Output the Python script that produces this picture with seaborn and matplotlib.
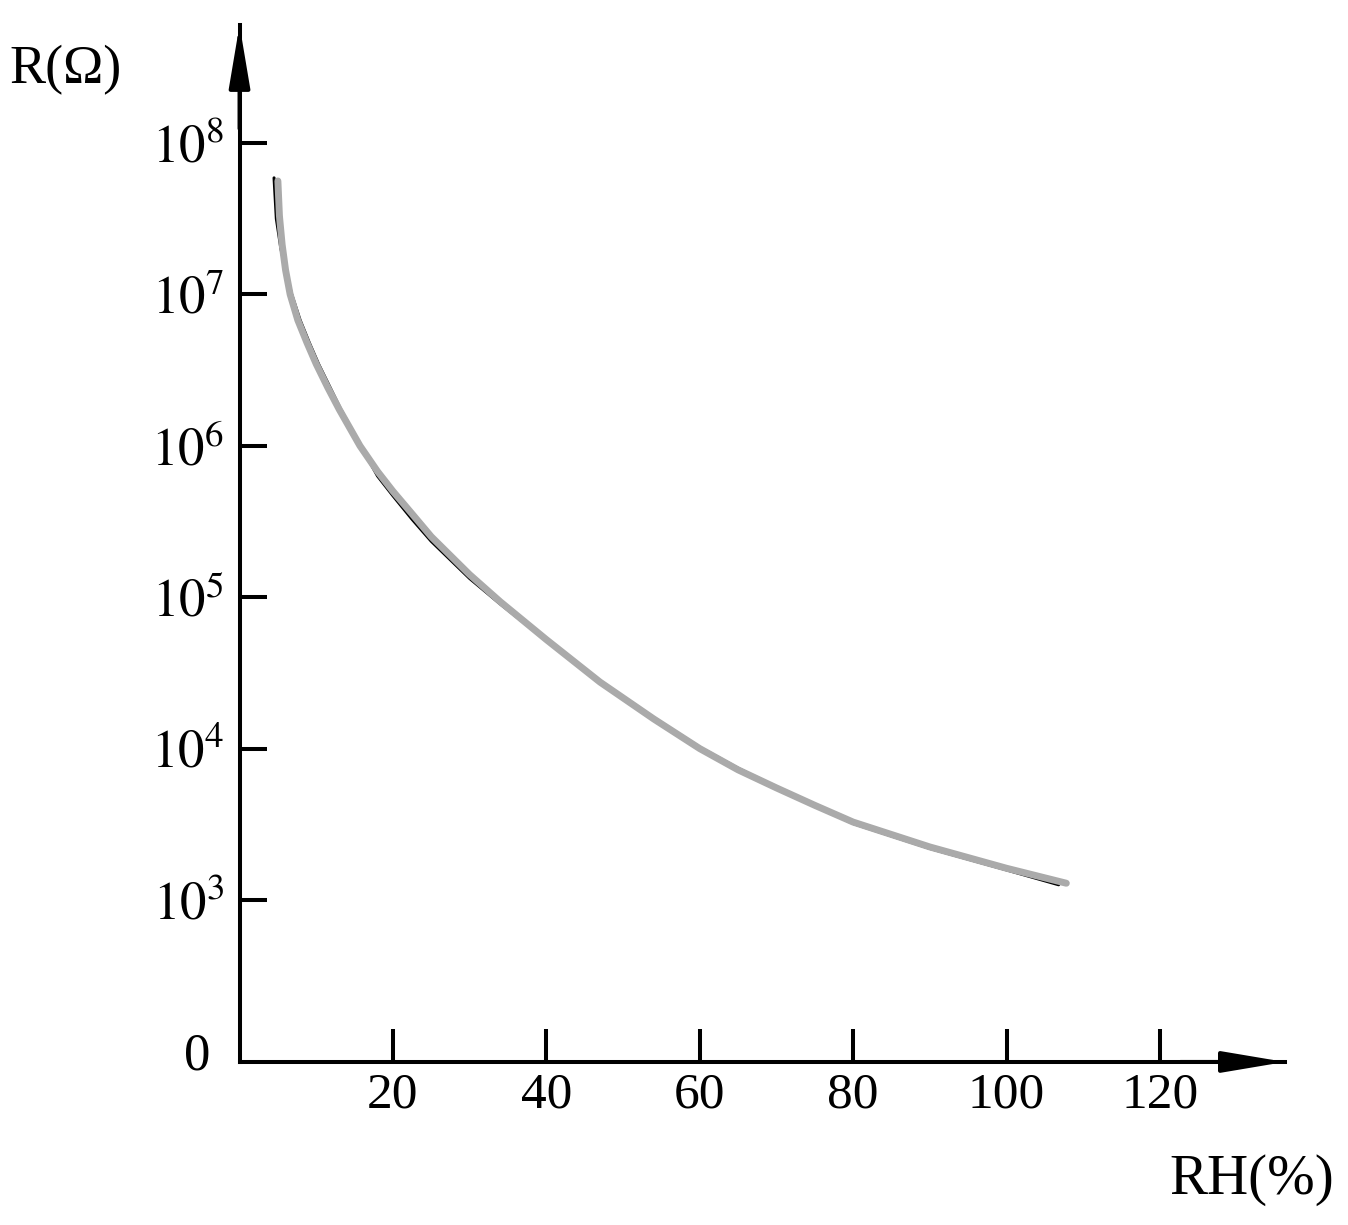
import matplotlib
matplotlib.use("Agg")
import matplotlib.pyplot as plt
import matplotlib.transforms as mtransforms
import seaborn as sns

# Data (RH in %, R in ohm)
rh_black = [4.5, 4.8, 5.4, 6.1, 6.8, 7.9, 9.1, 10.3, 11.8, 13.2, 15.8, 18, 20, 22.5, 25, 30, 34,
            40, 47, 54, 60, 65, 70, 75, 80, 90, 100, 106.8]
r_black = [5.89e7, 3.16e7, 2.0e7, 1.38e7, 1.0e7, 6.76e6, 4.79e6, 3.47e6, 2.43e6, 1.74e6, 1.0e6,
           6.31e5, 4.68e5, 3.27e5, 2.34e5, 1.33e5, 9.02e4, 5.19e4, 2.79e4, 1.60e4, 1.02e4,
           7.41e3, 5.56e3, 4.22e3, 3.20e3, 2.19e3, 1.58e3, 1.26e3]

rh_grey = [5.0, 5.2, 5.55, 6.0, 6.6, 7.6, 8.8, 10, 11.5, 13, 15.7, 18, 20, 22.5, 25, 30, 34,
           40, 47, 54, 60, 65, 70, 75, 80, 90, 100, 107.8]
r_grey = [5.62e7, 3.31e7, 2.14e7, 1.45e7, 1.0e7, 6.76e6, 4.79e6, 3.47e6, 2.43e6, 1.74e6, 1.0e6,
          6.76e5, 5.01e5, 3.55e5, 2.51e5, 1.41e5, 9.33e4, 5.25e4, 2.75e4, 1.57e4, 1.0e4,
          7.24e3, 5.50e3, 4.22e3, 3.27e3, 2.24e3, 1.62e3, 1.29e3]

x_ticks = [20, 40, 60, 80, 100, 120]
y_ticks = [1e2, 1e3, 1e4, 1e5, 1e6, 1e7, 1e8]
y_ticklabels = ['0', r'$10^{3}$', r'$10^{4}$', r'$10^{5}$', r'$10^{6}$', r'$10^{7}$', r'$10^{8}$']

sns.set_style('white')
plt.rcParams['font.family'] = ['Liberation Serif', 'DejaVu Serif']
plt.rcParams['mathtext.fontset'] = 'stix'
plt.rcParams['text.color'] = 'black'
plt.rcParams['xtick.color'] = 'black'
plt.rcParams['ytick.color'] = 'black'
plt.rcParams['axes.labelcolor'] = 'black'

fig = plt.figure(figsize=(13.48, 12.25), dpi=100)
ax = fig.add_axes([0.1777, 0.1331, 0.7755, 0.8465])

sns.lineplot(x=rh_black, y=r_black, color='black', linewidth=2.2, ax=ax)
sns.lineplot(x=rh_grey, y=r_grey, color='#aaaaaa', linewidth=5, ax=ax)

ax.set_yscale('log')
ax.set_xlim(0, 136.3)
ax.set_ylim(10**1.93, 10**8.78)
ax.set_xticks(x_ticks)
ax.set_xticklabels([str(t) for t in x_ticks])
ax.set_yticks(y_ticks)
ax.set_yticklabels(y_ticklabels)
ax.yaxis.set_minor_locator(matplotlib.ticker.NullLocator())

ax.tick_params(axis='y', direction='in', length=19.5, width=2.9, pad=11, labelsize=38,
               left=True, colors='black')
ax.tick_params(axis='x', direction='in', length=24, width=2.9, pad=7, labelsize=37,
               bottom=True, colors='black')

# the "0" at the bottom has no tick and sits a bit further left
zero_tick = ax.yaxis.get_major_ticks()[0]
zero_tick.tick1line.set_visible(False)
zero_tick.label1.set_transform(zero_tick.label1.get_transform()
                               + mtransforms.ScaledTranslation(-0.14, 0, fig.dpi_scale_trans))

for s in ['top', 'right']:
    ax.spines[s].set_visible(False)
for s in ['left', 'bottom']:
    ax.spines[s].set_linewidth(2.9)
    ax.spines[s].set_color('black')

# arrow heads on the axes
arrow = dict(arrowstyle='-|>,head_length=1.9,head_width=0.32', color='black', lw=2.9,
             mutation_scale=20, shrinkA=0, shrinkB=0)
ax.annotate('', xy=(0, 1), xytext=(0, 0.9), xycoords='axes fraction', arrowprops=arrow)
ax.annotate('', xy=(1, 0), xytext=(0.9, 0), xycoords='axes fraction', arrowprops=arrow)

fig.text(0.007, 0.943, 'R(Ω)', ha='left', va='center', fontsize=39, color='black')
fig.text(0.990, 0.0367, 'RH(%)', ha='right', va='center', fontsize=41, color='black')

plt.savefig('out.png', dpi=100)
